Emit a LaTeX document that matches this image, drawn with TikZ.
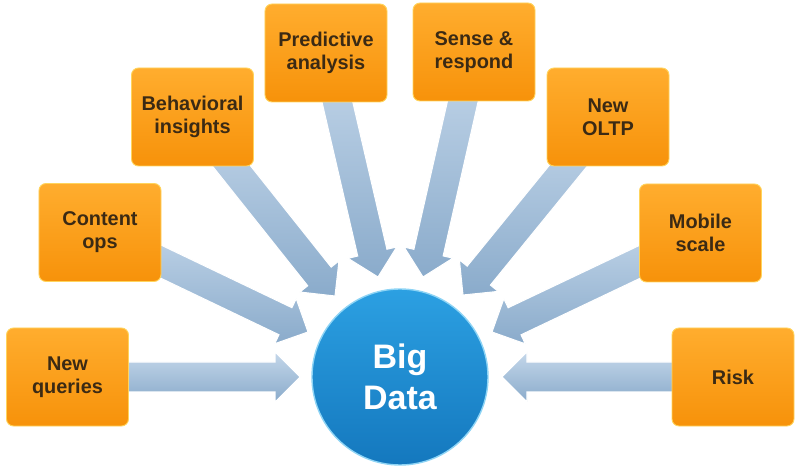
\documentclass[tikz,border=0pt]{standalone}
\usepackage{fontspec}
\setmainfont{Liberation Sans}
\usetikzlibrary{calc}
\definecolor{boxtop}{HTML}{FFAD2E}
\definecolor{boxbot}{HTML}{F7920A}
\definecolor{boxedge}{HTML}{FFD45C}
\definecolor{boxtext}{HTML}{3B2A14}
\definecolor{arrtop}{HTML}{C4D7EA}
\definecolor{arrbot}{HTML}{8AABCB}
\definecolor{balltop}{HTML}{2CA0E2}
\definecolor{ballbot}{HTML}{1478BE}
\definecolor{balledge}{HTML}{8ED4F5}
\newcommand\fatarrow[2]{%
  \coordinate (hb) at ($(#2)!0.75cm!(#1)$);
  \path[fatarrowstyle]
    ($(#1)!0.45cm!90:(#2)$) -- ($(hb)!0.45cm!90:(#2)$) -- ($(hb)!0.75cm!90:(#2)$)
    -- (#2) -- ($(hb)!0.75cm!-90:(#2)$) -- ($(hb)!0.45cm!-90:(#2)$)
    -- ($(#1)!0.45cm!-90:(#2)$) -- cycle;
}
\begin{document}
\begin{tikzpicture}[x=0.03cm,y=0.03cm,
  fatarrowstyle/.style={draw=white, line width=0.9pt, top color=arrtop, bottom color=arrbot},
  topicbox/.style={rectangle, rounded corners=0.21cm, minimum width=3.66cm, minimum height=2.94cm,
    top color=boxtop, bottom color=boxbot, draw=boxedge, line width=0.8pt,
    text=boxtext, align=center, font=\fontsize{17}{19.5}\selectfont\bfseries},
  hub/.style={circle, minimum size=5.28cm, inner sep=0pt, top color=balltop, bottom color=ballbot,
    draw=balledge, line width=1.2pt, text=white, align=center,
    font=\fontsize{29}{35}\selectfont\bfseries}]
\useasboundingbox (0,0) rectangle (800,472);
% tips
\coordinate (tnq) at (300,95);
\coordinate (tco) at (308,140);
\coordinate (tbi) at (335,176);
\coordinate (tpa) at (378,195);
\coordinate (tsr) at (423,195);
\coordinate (tol) at (463,177);
\coordinate (tms) at (492,140);
\coordinate (trk) at (502,95);
% box centres
\coordinate (cnq) at (67.5,95);
\coordinate (cco) at (100,239.5);
\coordinate (cbi) at (192.5,355);
\coordinate (cpa) at (326,419);
\coordinate (csr) at (474,420);
\coordinate (col) at (608,355);
\coordinate (cms) at (700.5,239);
\coordinate (crk) at (733,95);
% arrows
\fatarrow{cnq}{tnq}
\fatarrow{cco}{tco}
\fatarrow{cbi}{tbi}
\fatarrow{cpa}{tpa}
\fatarrow{csr}{tsr}
\fatarrow{col}{tol}
\fatarrow{cms}{tms}
\fatarrow{crk}{trk}
% boxes
\node[topicbox] (nq) at (cnq) {New\\queries};
\node[topicbox] (co) at (cco) {Content\\ops};
\node[topicbox] (bi) at (cbi) {Behavioral\\insights};
\node[topicbox] (pa) at (cpa) {Predictive\\analysis};
\node[topicbox] (sr) at (csr) {Sense \&\\respond};
\node[topicbox] (ol) at (col) {New\\OLTP};
\node[topicbox] (ms) at (cms) {Mobile\\scale};
\node[topicbox] (rk) at (crk) {Risk};
% hub
\node[hub] (bd) at (400,95) {Big\\Data};
\end{tikzpicture}
\end{document}
